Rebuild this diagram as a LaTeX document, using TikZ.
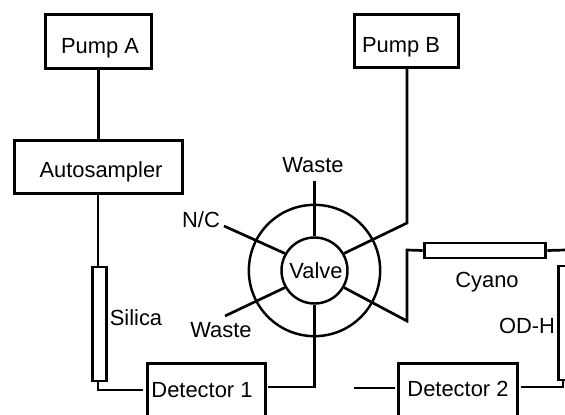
\documentclass[tikz,border=0pt]{standalone}
\usepackage{fontspec}
\setmainfont{Liberation Sans}
\usepackage{tikz}
\usetikzlibrary{positioning,calc}
\tikzset{
    unitbox/.style={draw, line width=2.6pt, inner sep=0pt, minimum height=1.6cm},
    column/.style={draw, line width=2.5pt, inner sep=0pt},
    pipe/.style={line width=2.3pt, line join=miter},
    tag/.style={inner sep=0pt, anchor=base, font=\fontsize{18.7}{20}\selectfont}
}

\begin{document}
\begin{tikzpicture}[x=0.03cm, y=-0.03cm]
        \clip (0,0) rectangle (565,414);

        \node[unitbox, minimum width=3.2cm] (pumpa) at (98.5,41.5) {};
        \node[unitbox, minimum width=3.14cm] (pumpb) at (406.5,41) {};
        \node[unitbox, minimum width=5.06cm] (sampler) at (98.5,167) {};
        \node[column, minimum width=0.4cm, minimum height=3.42cm] (silica) at (99.5,324) {};
        \node[unitbox, minimum width=3.55cm] (det1) at (206.5,390) {};
        \node[unitbox, minimum width=3.58cm] (det2) at (458,390) {};
        \node[column, minimum width=3.65cm, minimum height=0.45cm] (cyano) at (485,250.5) {};
        \node[column, minimum width=0.45cm, minimum height=3.42cm] (odh) at (566,323) {};

        \node[circle, draw, line width=2.1pt, inner sep=0pt, minimum size=3.94cm] (ring) at (314.5,270.5) {};
        \node[circle, draw, line width=2.1pt, fill=white, inner sep=0pt, minimum size=1.98cm] (valve) at (314.5,270.5) {};

        \node[tag] (pumpalabel) at (100,53) {Pump A};
        \node[tag] (pumpblabel) at (401,52) {Pump B};
        \node[tag] (samplerlabel) at (101,177.5) {Autosampler};
        \node[tag] (det1label) at (202,397) {Detector 1};
        \node[tag] (det2label) at (458,396.5) {Detector 2};
        \node[tag] (valvelabel) at (316,278) {Valve};
        \node[tag] (wastetop) at (313,172.5) {Waste};
        \node[tag] (nc) at (201,227) {N/C};
        \node[tag] (wastelow) at (221,337) {Waste};
        \node[tag] (silicalabel) at (136,325) {Silica};
        \node[tag] (cyanolabel) at (487,287) {Cyano};
        \node[tag] (odhlabel) at (527,333) {OD-H};

        \coordinate (wastetopend) at (314.5,181);
        \coordinate (ncend) at (224,226);
        \coordinate (wastelowend) at (225,316);
        \coordinate (kneeb) at (407,223);
        \coordinate (kneec) at (407,321);
        \coordinate (gapa) at (354,388);
        \coordinate (odhtop) at (565,250);

        \draw[pipe, line width=2.6pt] (pumpa.south) -- (pumpa.south |- sampler.north);
        \draw[pipe] (sampler.south -| 98,0) -- (silica.north -| 98,0);
        \draw[pipe] (silica.south -| 98,0) -- (98,390) -- (143,390);
        \draw[pipe] (268,387) -| (valve.south);
        \draw[pipe] (valve.north) -- (wastetopend);
        \draw[pipe] (valve.150) -- (ncend);
        \draw[pipe] (valve.210) -- (wastelowend);
        \draw[pipe] (valve.30) -- (kneeb) -- (kneeb |- pumpb.south);
        \draw[pipe] (valve.330) -- (kneec) -- (407,250) -- (cyano.west);
        \draw[pipe] (cyano.east) -- (odhtop);
        \draw[pipe] (gapa) -- (395,388);
        \draw[pipe] (521,387) -- (563,387) -- (563,381);
    \end{tikzpicture}
\end{document}
